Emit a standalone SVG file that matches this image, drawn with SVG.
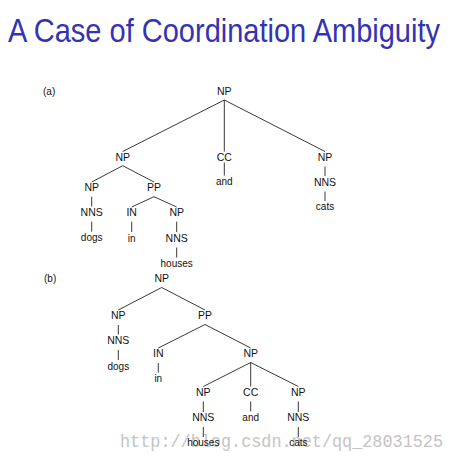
<svg xmlns="http://www.w3.org/2000/svg" width="451" height="465" viewBox="0 0 451 465">
<style>
.title{font-family:"Liberation Sans","DejaVu Sans",sans-serif;font-size:33px;fill:#3333B3}
.lab{font-family:"Liberation Sans","DejaVu Sans",sans-serif;font-size:10.5px;fill:#111;text-anchor:middle}
.wd{font-family:"Liberation Sans","DejaVu Sans",sans-serif;font-size:10px;fill:#111;text-anchor:middle}
.tag{font-family:"Liberation Sans","DejaVu Sans",sans-serif;font-size:10px;fill:#111}
.wm{font-family:"Liberation Mono","DejaVu Sans Mono",monospace;font-size:18px;fill:#c4c4c4}
.edges line{stroke:#222;stroke-width:0.9}
</style>
<rect width="451" height="465" fill="#fff"/>
<text class="wm" x="120" y="447" textLength="323" lengthAdjust="spacingAndGlyphs">http://blog.csdn.net/qq_28031525</text>
<text class="title" x="8" y="42" textLength="432" lengthAdjust="spacingAndGlyphs">A Case of Coordination Ambiguity</text>
<text class="tag" x="43" y="95">(a)</text>
<text class="tag" x="44" y="282">(b)</text>
<g class="edges" id="connectors">
<!-- tree a -->
<line x1="224.3" y1="100" x2="122.7" y2="151.5"/>
<line x1="224.3" y1="100" x2="224.3" y2="151.5"/>
<line x1="224.3" y1="100" x2="325" y2="151.5"/>
<line x1="224.3" y1="162.5" x2="224.3" y2="175.5"/>
<line x1="325" y1="166.5" x2="325" y2="176"/>
<line x1="325" y1="191.5" x2="325" y2="201"/>
<line x1="122.7" y1="165.7" x2="91.7" y2="182"/>
<line x1="122.7" y1="165.7" x2="154" y2="182"/>
<line x1="91.7" y1="196.7" x2="91.7" y2="206.5"/>
<line x1="91.7" y1="221.7" x2="91.7" y2="231.7"/>
<line x1="154" y1="196.7" x2="131.7" y2="207"/>
<line x1="154" y1="196.7" x2="176.7" y2="207"/>
<line x1="131.7" y1="221.7" x2="131.7" y2="232"/>
<line x1="176.7" y1="221.7" x2="176.7" y2="232"/>
<line x1="176.7" y1="247.5" x2="176.7" y2="257.5"/>
<!-- tree b -->
<line x1="161.7" y1="287.5" x2="118.3" y2="310"/>
<line x1="161.7" y1="287.5" x2="205" y2="310"/>
<line x1="118.3" y1="325" x2="118.3" y2="334.5"/>
<line x1="118.3" y1="350" x2="118.3" y2="360"/>
<line x1="205" y1="324.5" x2="158.3" y2="348"/>
<line x1="205" y1="324.5" x2="250.7" y2="348"/>
<line x1="158.3" y1="363" x2="158.3" y2="372.5"/>
<line x1="250.7" y1="362.5" x2="203.3" y2="386.5"/>
<line x1="250.7" y1="362.5" x2="250.7" y2="386.5"/>
<line x1="250.7" y1="362.5" x2="298.3" y2="386.5"/>
<line x1="203.3" y1="401.5" x2="203.3" y2="412"/>
<line x1="250.7" y1="401.5" x2="250.7" y2="411.5"/>
<line x1="298.3" y1="401.5" x2="298.3" y2="412"/>
<line x1="203.3" y1="427" x2="203.3" y2="437"/>
<line x1="298.3" y1="427" x2="298.3" y2="437"/>
</g>
<!-- tree a nodes -->
<g id="a-np-root"><text class="lab" x="224.3" y="95">NP</text></g>
<g id="a-np-left"><text class="lab" x="122.7" y="160.5">NP</text></g>
<g id="a-cc"><text class="lab" x="224.3" y="160.5">CC</text></g>
<g id="a-and"><text class="wd" x="224.3" y="185.2">and</text></g>
<g id="a-np-right"><text class="lab" x="325" y="160.5">NP</text></g>
<g id="a-nns-cats"><text class="lab" x="325" y="185.5">NNS</text></g>
<g id="a-cats"><text class="wd" x="325" y="210.2">cats</text></g>
<g id="a-np-dogs"><text class="lab" x="91.7" y="190.5">NP</text></g>
<g id="a-pp"><text class="lab" x="154" y="190.5">PP</text></g>
<g id="a-nns-dogs"><text class="lab" x="91.7" y="215.5">NNS</text></g>
<g id="a-dogs"><text class="wd" x="91.7" y="241.2">dogs</text></g>
<g id="a-in"><text class="lab" x="131.7" y="215.5">IN</text></g>
<g id="a-in-word"><text class="wd" x="131.7" y="241.5">in</text></g>
<g id="a-np-houses"><text class="lab" x="176.7" y="215.5">NP</text></g>
<g id="a-nns-houses"><text class="lab" x="176.7" y="241.5">NNS</text></g>
<g id="a-houses"><text class="wd" x="176.7" y="266.8">houses</text></g>
<!-- tree b nodes -->
<g id="b-np-root"><text class="lab" x="161.7" y="282.1">NP</text></g>
<g id="b-np-dogs"><text class="lab" x="118.3" y="318.8">NP</text></g>
<g id="b-pp"><text class="lab" x="205" y="318.8">PP</text></g>
<g id="b-nns-dogs"><text class="lab" x="118.3" y="343.8">NNS</text></g>
<g id="b-dogs"><text class="wd" x="118.3" y="369.5">dogs</text></g>
<g id="b-in"><text class="lab" x="158.3" y="357.1">IN</text></g>
<g id="b-in-word"><text class="wd" x="158.3" y="381.8">in</text></g>
<g id="b-np-coord"><text class="lab" x="250.7" y="357.1">NP</text></g>
<g id="b-np-houses"><text class="lab" x="203.3" y="395.5">NP</text></g>
<g id="b-cc"><text class="lab" x="250.7" y="395.5">CC</text></g>
<g id="b-np-cats"><text class="lab" x="298.3" y="395.5">NP</text></g>
<g id="b-nns-houses"><text class="lab" x="203.3" y="421.1">NNS</text></g>
<g id="b-and"><text class="wd" x="250.7" y="420.8">and</text></g>
<g id="b-nns-cats"><text class="lab" x="298.3" y="421.1">NNS</text></g>
<g id="b-houses"><text class="wd" x="203.3" y="446.2">houses</text></g>
<g id="b-cats"><text class="wd" x="298.3" y="446.2">cats</text></g>
</svg>
